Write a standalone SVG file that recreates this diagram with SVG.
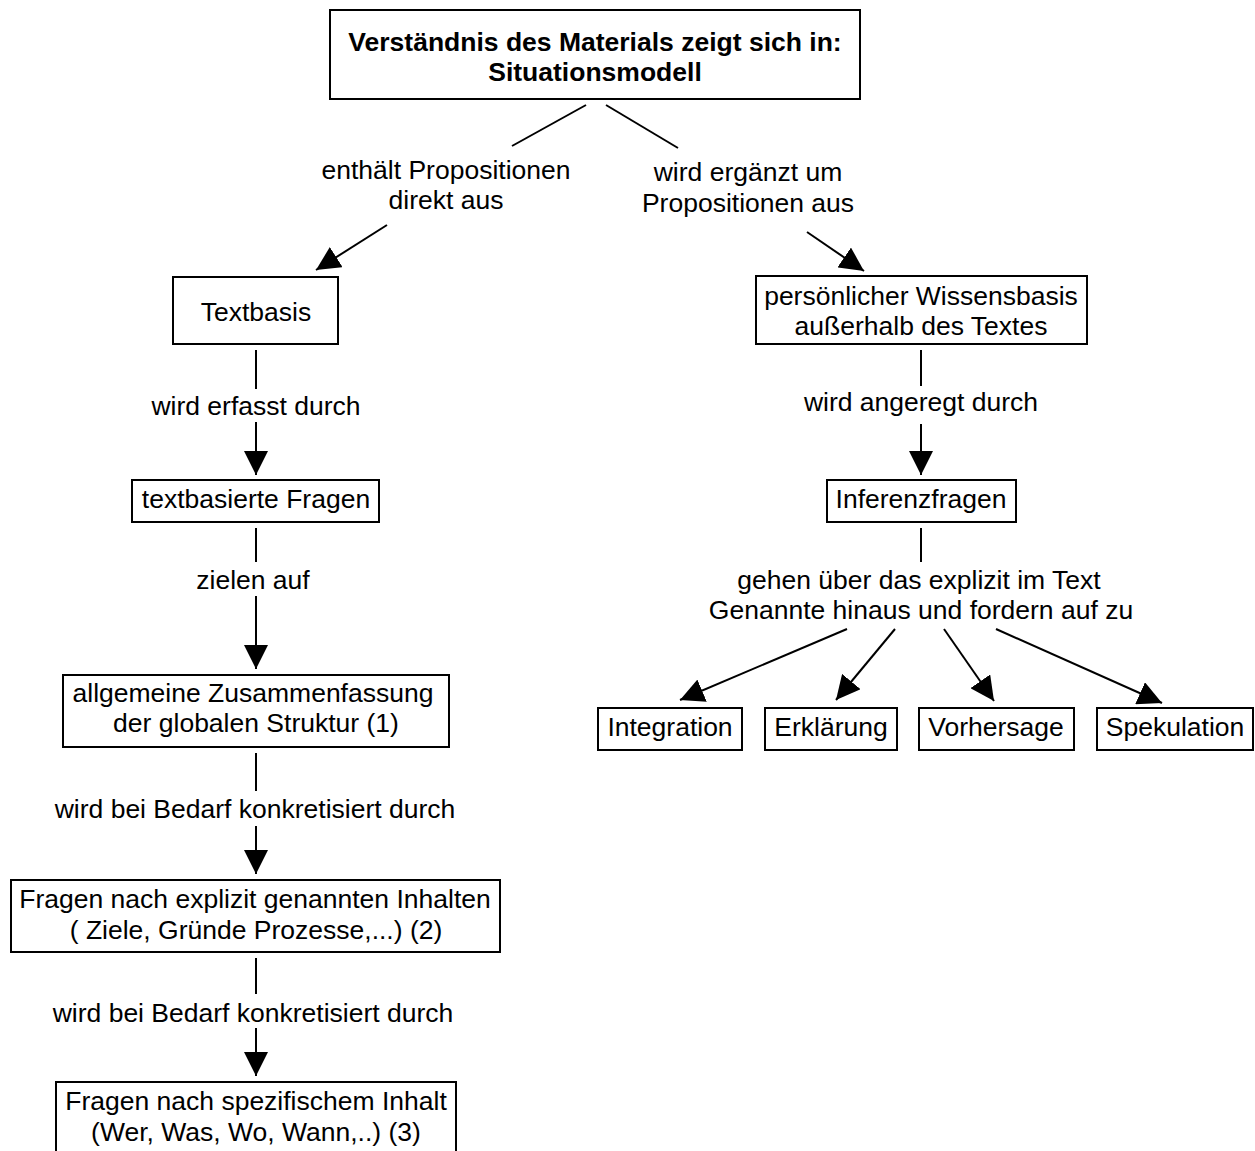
<svg xmlns="http://www.w3.org/2000/svg" width="1255" height="1151" viewBox="0 0 1255 1151">
  <defs>
    <marker id="arrow" viewBox="0 0 24 24" refX="24" refY="12" markerWidth="24" markerHeight="24" markerUnits="userSpaceOnUse" orient="auto">
      <path d="M0,0 L24,12 L0,24 z" fill="#000"/>
    </marker>
    <style>
      .box { fill: #fff; stroke: #000; stroke-width: 2; }
      .t { font-family: "Liberation Sans", Arial, sans-serif; font-size: 26.5px; fill: #000; text-anchor: middle; }
      .b { font-weight: bold; }
      .edge { stroke: #000; stroke-width: 2; fill: none; }
      .arr { marker-end: url(#arrow); }
    </style>
  </defs>
  <rect width="1255" height="1151" fill="#fff"/>

  <!-- connectors and their labels -->
  <g id="connectors">
    <line class="edge" x1="586" y1="105" x2="512" y2="146"/>
    <line class="edge" x1="606" y1="105" x2="678" y2="148"/>
    <text class="t" x="446" y="179">enthält Propositionen</text>
    <text class="t" x="446" y="209">direkt aus</text>
    <text class="t" x="748" y="181">wird ergänzt um</text>
    <text class="t" x="748" y="212">Propositionen aus</text>
    <line class="edge arr" x1="387" y1="225" x2="316" y2="270"/>
    <line class="edge arr" x1="807" y1="232" x2="864" y2="271"/>

    <line class="edge" x1="256" y1="350" x2="256" y2="389"/>
    <text class="t" x="256" y="415">wird erfasst durch</text>
    <line class="edge arr" x1="256" y1="422" x2="256" y2="475"/>

    <line class="edge" x1="256" y1="528" x2="256" y2="562"/>
    <text class="t" x="253" y="589">zielen auf</text>
    <line class="edge arr" x1="256" y1="596" x2="256" y2="669"/>

    <line class="edge" x1="256" y1="753" x2="256" y2="791"/>
    <text class="t" x="255" y="818">wird bei Bedarf konkretisiert durch</text>
    <line class="edge arr" x1="256" y1="826" x2="256" y2="874"/>

    <line class="edge" x1="256" y1="958" x2="256" y2="994"/>
    <text class="t" x="253" y="1022">wird bei Bedarf konkretisiert durch</text>
    <line class="edge arr" x1="256" y1="1028" x2="256" y2="1076"/>

    <line class="edge" x1="921" y1="350" x2="921" y2="386"/>
    <text class="t" x="921" y="411">wird angeregt durch</text>
    <line class="edge arr" x1="921" y1="424" x2="921" y2="475"/>

    <line class="edge" x1="921" y1="528" x2="921" y2="562"/>
    <text class="t" x="919" y="589">gehen über das explizit im Text</text>
    <text class="t" x="921" y="619">Genannte hinaus und fordern auf zu</text>
    <line class="edge arr" x1="847" y1="629" x2="680" y2="700"/>
    <line class="edge arr" x1="895" y1="629" x2="836" y2="700"/>
    <line class="edge arr" x1="944" y1="629" x2="994" y2="701"/>
    <line class="edge arr" x1="996" y1="629" x2="1162" y2="703"/>
  </g>

  <g id="situationsmodell">
    <rect class="box" x="330" y="10" width="530" height="89"/>
    <text class="t b" x="595" y="51">Verständnis des Materials zeigt sich in:</text>
    <text class="t b" x="595" y="81">Situationsmodell</text>
  </g>

  <g id="textbasis">
    <rect class="box" x="173" y="277" width="165" height="67"/>
    <text class="t" x="256" y="321">Textbasis</text>
  </g>

  <g id="wissensbasis">
    <rect class="box" x="756" y="276" width="331" height="68"/>
    <text class="t" x="921" y="305">persönlicher Wissensbasis</text>
    <text class="t" x="921" y="335">außerhalb des Textes</text>
  </g>

  <g id="textbasierte-fragen">
    <rect class="box" x="132" y="480" width="247" height="42"/>
    <text class="t" x="256" y="508">textbasierte Fragen</text>
  </g>

  <g id="inferenzfragen">
    <rect class="box" x="827" y="480" width="189" height="42"/>
    <text class="t" x="921" y="508">Inferenzfragen</text>
  </g>

  <g id="zusammenfassung">
    <rect class="box" x="63" y="675" width="386" height="72"/>
    <text class="t" x="253" y="702">allgemeine Zusammenfassung</text>
    <text class="t" x="256" y="732">der globalen Struktur (1)</text>
  </g>

  <g id="explizite-inhalte">
    <rect class="box" x="11" y="880" width="489" height="72"/>
    <text class="t" x="255" y="908">Fragen nach explizit genannten Inhalten</text>
    <text class="t" x="256" y="939">( Ziele, Gründe Prozesse,...) (2)</text>
  </g>

  <g id="spezifischer-inhalt">
    <rect class="box" x="56" y="1082" width="400" height="80"/>
    <text class="t" x="256" y="1110">Fragen nach spezifischem Inhalt</text>
    <text class="t" x="256" y="1141">(Wer, Was, Wo, Wann,..) (3)</text>
  </g>

  <g id="integration">
    <rect class="box" x="598" y="708" width="144" height="42"/>
    <text class="t" x="670" y="736">Integration</text>
  </g>

  <g id="erklaerung">
    <rect class="box" x="765" y="708" width="132" height="42"/>
    <text class="t" x="831" y="736">Erklärung</text>
  </g>

  <g id="vorhersage">
    <rect class="box" x="919" y="708" width="155" height="42"/>
    <text class="t" x="996" y="736">Vorhersage</text>
  </g>

  <g id="spekulation">
    <rect class="box" x="1097" y="708" width="156" height="42"/>
    <text class="t" x="1175" y="736">Spekulation</text>
  </g>
</svg>
